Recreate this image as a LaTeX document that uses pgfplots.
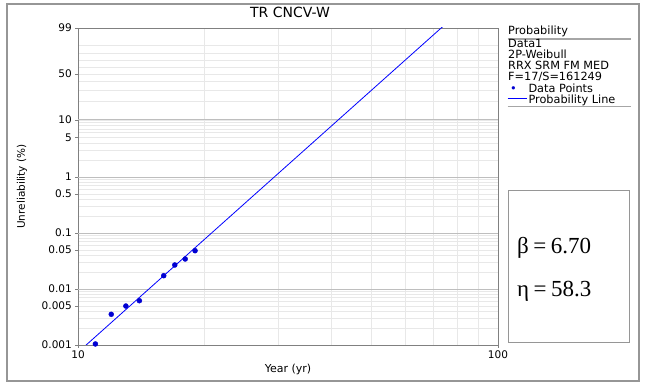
\documentclass[border=0pt]{standalone}
\usepackage{pgfplots}
\pgfplotsset{compat=1.18}
\usepackage{pgfplotstable}
\usepackage{fontspec}
\setmainfont{DejaVu Sans}
\newfontfamily\serifp{Liberation Serif}
\definecolor{ptblue}{RGB}{0,0,210}
\definecolor{lnblue}{RGB}{0,0,255}
\definecolor{gridlt}{RGB}{232,232,232}
\definecolor{griddk}{RGB}{190,190,190}
\definecolor{frame}{RGB}{150,150,150}
\definecolor{axgray}{RGB}{128,128,128}
% year, unreliability in %, Weibull ordinate w = ln(-ln(1-F))
\pgfplotstableread{
year unrel w
11 0.00104 -11.47
12 0.00354 -10.25
13 0.00497 -9.909
14 0.00618 -9.691
16 0.0173 -8.662
17 0.0269 -8.222
18 0.0343 -7.975
19 0.0483 -7.634
}\datapts
% probability line: beta=6.70, eta=58.3
\pgfplotstableread{
year w
10 -11.8122
100 3.6151
}\probline
\begin{document}
\begin{tikzpicture}[x=1pt,y=1pt]
\useasboundingbox (0pt,0pt) rectangle (648pt,388pt);
\fill[white] (0pt,0pt) rectangle (648pt,388pt);
\draw[frame, line width=1.2pt] (7pt,7pt) rectangle (639pt,384pt);
\begin{axis}[
  at={(78pt,43pt)}, anchor=south west,
  scale only axis, width=420pt, height=317pt,
  xmode=log, xmin=10, xmax=100,
  ymin=-11.51293, ymax=1.52718,
  xtick={10,100}, xticklabels={10,100},
  minor xtick={20,30,40,50,60,70,80,90},
  ytick={1.52718,-0.36651,-2.25037,-2.97020,-4.60015,-5.29582,-6.90726,-7.60065,-9.21029,-9.90349,-11.51293},
  yticklabels={99,50,10,5,1,0.5,0.1,0.05,0.01,0.005,0.001},
  minor ytick={0.83403,0.47588,0.18563,-0.08742,-0.67173,-1.03093,-1.49994,
    -2.36117,-2.48432,-2.62319,-2.78263,-3.19853,-3.49137,-3.90194,
    -4.70600,-4.82427,-4.95832,-5.11294,-5.51946,-5.80764,-6.21361,
    -7.01267,-7.13050,-7.26408,-7.41828,-7.82385,-8.11158,-8.51709,
    -9.31570,-9.43348,-9.56702,-9.72117,-10.12663,-10.41431,-10.81978},
  extra y ticks={-2.25037,-4.60015,-6.90726,-9.21029},
  extra y tick labels={},
  extra y tick style={grid=major, major grid style={griddk, line width=0.8pt}},
  grid=both,
  major grid style={gridlt, line width=0.6pt},
  minor grid style={gridlt, line width=0.6pt},
  minor tick length=0pt,
  major tick length=3pt,
  tick align=outside,
  xtick pos=bottom, ytick pos=left,
  axis line style={axgray, line width=0.8pt},
  tick style={axgray, line width=0.6pt},
  clip mode=individual,
  ticklabel style={font=\fontsize{10.5}{12}\selectfont},
  yticklabel style={anchor=east, inner sep=0pt, xshift=-3pt},
  xticklabel style={anchor=north, inner sep=0pt, yshift=-3pt},
  xlabel={Year (yr)},
  xlabel style={at={(axis description cs:0.5,-0.0852)}, anchor=base, font=\fontsize{11}{13}\selectfont},
  ylabel={Unreliability (\%)},
  ylabel style={at={(axis description cs:-0.1262,0.5)}, anchor=base, rotate=0, font=\fontsize{10.5}{12}\selectfont},
  title={TR CNCV-W},
  title style={at={(axis description cs:0.505,1.031)}, anchor=center, font=\fontsize{14}{16}\selectfont},
]
\addplot[lnblue, line width=0.8pt] table[x=year, y=w] {\probline};
\addplot[only marks, mark=*, mark size=2.5pt, ptblue, mark options={draw=ptblue, fill=ptblue}] table[x=year, y=w] {\datapts};
\end{axis}
% legend block
\begin{scope}[every node/.style={anchor=base west, inner sep=0pt, font=\fontsize{11.3}{13}\selectfont}]
\node at (508pt,353pt) {Probability};
\draw[gray!70, line width=1.2pt] (507.7pt,349pt) -- (631pt,349pt);
\node at (508pt,340.7pt) {Data1};
\node at (508pt,329.5pt) {2P-Weibull};
\node at (508pt,318.3pt) {RRX SRM FM MED};
\node at (508pt,307.1pt) {F=17/S=161249};
\node[text=ptblue] at (510pt,295.9pt) {•};
\node at (528.3pt,295.9pt) {Data Points};
\draw[lnblue, line width=0.8pt] (507.7pt,289.3pt) -- (526.7pt,289.3pt);
\node at (528.3pt,284.7pt) {Probability Line};
\draw[gray!70, line width=1.2pt] (507.7pt,281.3pt) -- (631pt,281.3pt);
\end{scope}
% parameter box
\draw[frame, line width=0.9pt] (508pt,46pt) rectangle (629pt,198pt);
\node[anchor=base west, inner sep=0pt, font=\serifp\fontsize{23}{26}\selectfont] at (517pt,134pt) {β\kern4.5pt=\kern4.5pt6.70};
\node[anchor=base west, inner sep=0pt, font=\serifp\fontsize{23}{26}\selectfont] at (517pt,91pt) {η\kern4.5pt=\kern4.5pt58.3};
\end{tikzpicture}
\end{document}
